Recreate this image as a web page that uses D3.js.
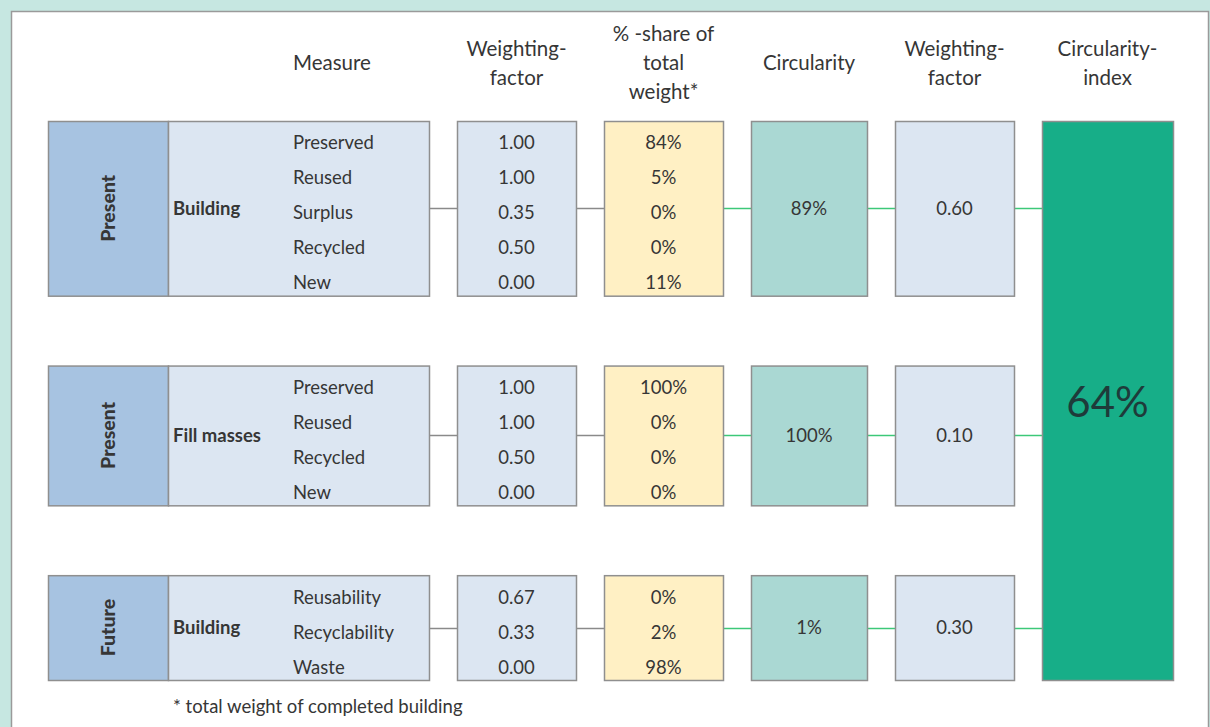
<!DOCTYPE html>
<html>
<head>
<meta charset="utf-8">
<script src="https://cdn.jsdelivr.net/npm/d3@7"></script>
<style>
  body { margin: 0; background: #c6e7e1; }
  text { font-family: Lato, "Open Sans", sans-serif; fill: #363636; }
</style>
</head>
<body>
<div id="chart"></div>
<script>
// data
var times = ["Present", "Present", "Future"];
var groups = ["Building", "Fill masses", "Building"];
var measures = [
  ["Preserved", "Reused", "Surplus", "Recycled", "New"],
  ["Preserved", "Reused", "Recycled", "New"],
  ["Reusability", "Recyclability", "Waste"]
];
var weights = [
  ["1.00", "1.00", "0.35", "0.50", "0.00"],
  ["1.00", "1.00", "0.50", "0.00"],
  ["0.67", "0.33", "0.00"]
];
var shares = [
  ["84%", "5%", "0%", "0%", "11%"],
  ["100%", "0%", "0%", "0%"],
  ["0%", "2%", "98%"]
];
var circularity = ["89%", "100%", "1%"];
var groupWeights = ["0.60", "0.10", "0.30"];
var circularityIndex = "64%";
var headers = [
  {col: "measure", lines: ["Measure"]},
  {col: "weight", lines: ["Weighting-", "factor"]},
  {col: "share", lines: ["% -share of", "total", "weight*"]},
  {col: "circ", lines: ["Circularity"]},
  {col: "wf", lines: ["Weighting-", "factor"]},
  {col: "index", lines: ["Circularity-", "index"]}
];
var footnote = "* total weight of completed building";

var svgWidth = 1210;
var svgHeight = 727;
var bodySize = "18.5px";

var svg = d3.select("#chart")
  .append("svg")
  .attr("width", svgWidth)
  .attr("height", svgHeight)
  .style("display", "block");

// white frame
svg.append("rect")
  .attr("x", 11.5).attr("y", 11.5)
  .attr("width", 1197).attr("height", 740)
  .attr("fill", "#fff")
  .attr("stroke", "#9a9a9a")
  .attr("stroke-width", 1.5);

// row slots: blocks separated by 2 empty rows
var blockStart = [];
var slot = 0;
measures.forEach(function(m) {
  blockStart.push(slot);
  slot += m.length + 2;
});
var totalRows = slot - 2;

var y = d3.scaleLinear()
  .domain([0, totalRows])
  .range([121, 680]);

// columns
var colKeys = ["time", "group", "weight", "share", "circ", "wf", "index"];
var colX = d3.scaleOrdinal().domain(colKeys).range([48, 168, 457, 604, 751, 895, 1042]);
var colW = d3.scaleOrdinal().domain(colKeys).range([120, 261, 119, 119, 116, 119, 131]);
var colFill = d3.scaleOrdinal().domain(colKeys)
  .range(["#a7c3e1", "#dce6f2", "#dce6f2", "#fff0c4", "#aad8d3", "#dce6f2", "#17ae88"]);
var colMid = function(k) { return colX(k) + colW(k) / 2; };

var border = "#8f8f8f";
var grayLine = "#8a8a8a";
var greenLine = "#3cc878";

var blocks = measures.map(function(m, i) {
  return {i: i, top: y(blockStart[i]), bottom: y(blockStart[i] + m.length), n: m.length};
});

// connectors (drawn first, behind the boxes)
var links = [
  {from: "group", to: "weight", color: grayLine},
  {from: "weight", to: "share", color: grayLine},
  {from: "share", to: "circ", color: greenLine},
  {from: "circ", to: "wf", color: greenLine},
  {from: "wf", to: "index", color: greenLine}
];
blocks.forEach(function(b) {
  var midY = Math.round((b.top + b.bottom) / 2) + 0.5;
  links.forEach(function(l) {
    svg.append("line")
      .attr("x1", colX(l.from) + colW(l.from))
      .attr("x2", colX(l.to))
      .attr("y1", midY).attr("y2", midY)
      .attr("stroke", l.color)
      .attr("stroke-width", 1.5);
  });
});

// block boxes
blocks.forEach(function(b) {
  ["time", "group", "weight", "share", "circ", "wf"].forEach(function(k) {
    svg.append("rect")
      .attr("x", colX(k) + 0.5)
      .attr("y", b.top + 0.5)
      .attr("width", colW(k))
      .attr("height", b.bottom - b.top)
      .attr("fill", colFill(k))
      .attr("stroke", border)
      .attr("stroke-width", 1.5);
  });
});

// circularity index box spanning all blocks
svg.append("rect")
  .attr("x", colX("index") + 0.5)
  .attr("y", y(0) + 0.5)
  .attr("width", colW("index"))
  .attr("height", y(totalRows) - y(0))
  .attr("fill", colFill("index"))
  .attr("stroke", border)
  .attr("stroke-width", 1.5);

svg.append("text")
  .attr("x", colMid("index"))
  .attr("y", 402)
  .attr("dy", "0.35em")
  .attr("text-anchor", "middle")
  .style("font-size", "42px")
  .style("fill", "#1e3b3a")
  .text(circularityIndex);

// texts per block
blocks.forEach(function(b) {
  var midY = (b.top + b.bottom) / 2;
  var cx = colMid("time");
  svg.append("text")
    .attr("transform", "translate(" + cx + "," + midY + ") rotate(-90)")
    .attr("dy", "0.35em")
    .attr("text-anchor", "middle")
    .style("font-size", "19.5px")
    .style("font-weight", "900")
    .text(times[b.i]);

  svg.append("text")
    .attr("x", 173)
    .attr("y", midY)
    .attr("dy", "0.35em")
    .style("font-size", bodySize)
    .style("font-weight", "bold")
    .text(groups[b.i]);

  svg.append("text")
    .attr("x", colMid("circ"))
    .attr("y", midY)
    .attr("dy", "0.35em")
    .attr("text-anchor", "middle")
    .style("font-size", bodySize)
    .text(circularity[b.i]);

  svg.append("text")
    .attr("x", colMid("wf"))
    .attr("y", midY)
    .attr("dy", "0.35em")
    .attr("text-anchor", "middle")
    .style("font-size", bodySize)
    .text(groupWeights[b.i]);

  measures[b.i].forEach(function(m, j) {
    var ry = y(blockStart[b.i] + j + 0.5) + 4.5;
    svg.append("text")
      .attr("x", 293).attr("y", ry).attr("dy", "0.35em")
      .style("font-size", bodySize)
      .text(m);
    svg.append("text")
      .attr("x", colMid("weight")).attr("y", ry).attr("dy", "0.35em")
      .attr("text-anchor", "middle")
      .style("font-size", bodySize)
      .text(weights[b.i][j]);
    svg.append("text")
      .attr("x", colMid("share")).attr("y", ry).attr("dy", "0.35em")
      .attr("text-anchor", "middle")
      .style("font-size", bodySize)
      .text(shares[b.i][j]);
  });
});

// headers
var headerX = function(col) { return col === "measure" ? 293 : colMid(col); };
headers.forEach(function(h) {
  var lineH = 29;
  var startY = 63 - (h.lines.length - 1) * lineH / 2;
  var t = svg.append("text")
    .attr("text-anchor", h.col === "measure" ? "start" : "middle")
    .style("font-size", "20.5px");
  h.lines.forEach(function(line, k) {
    t.append("tspan")
      .attr("x", headerX(h.col))
      .attr("y", startY + k * lineH)
      .attr("dy", "0.35em")
      .text(line);
  });
});

// footnote
svg.append("text")
  .attr("x", 173)
  .attr("y", 707)
  .attr("dy", "0.35em")
  .style("font-size", bodySize)
  .text(footnote);
</script>
</body>
</html>
